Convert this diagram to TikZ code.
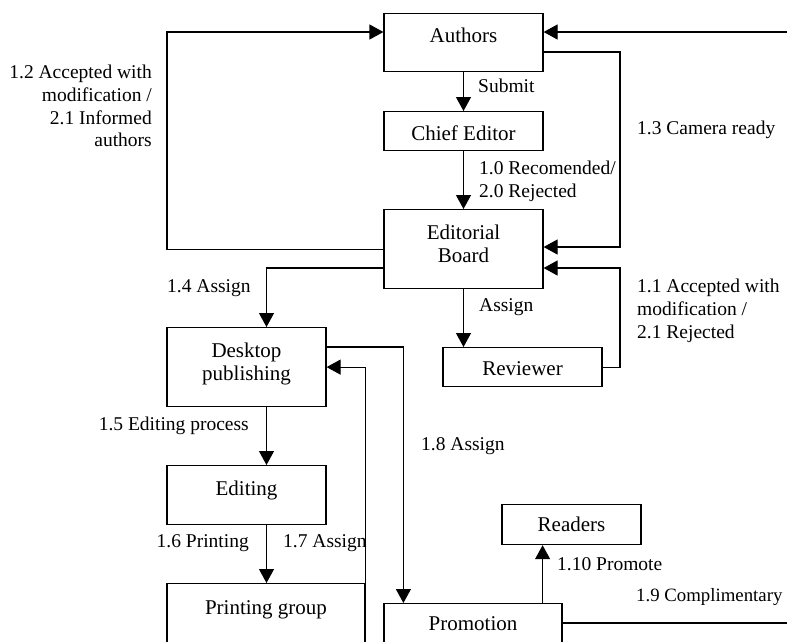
\documentclass[tikz,border=0pt]{standalone}
\usepackage{fontspec}
\setmainfont{Liberation Serif}
\usetikzlibrary{arrows.meta}
\begin{document}
\begin{tikzpicture}[x=1pt,y=-1pt,
  box/.style={draw, line width=1.2pt, inner xsep=0pt, inner ysep=0pt, anchor=north, font=\fontsize{21}{23}\selectfont},
  lbl/.style={inner sep=0pt, font=\fontsize{19.5}{22.7}\selectfont},
  conn/.style={line width=1.2pt},
  arr/.style={conn, -{Triangle[length=14pt,width=15pt]}}
]
\useasboundingbox (0,0) rectangle (787,641);
\clip (0,0) rectangle (787,641);

% boxes
\node[box, minimum width=159pt, text height=29pt, text depth=29pt] (authors) at (463.5,13) {Authors};
\node[box, minimum width=159pt, text height=29pt, text depth=10pt] (chief) at (463.5,111) {Chief Editor};
\node[box, minimum width=159pt, text height=30pt, text depth=49pt] (board) at (463.5,209) {\begin{tabular}[t]{@{}c@{}}Editorial\\Board\end{tabular}};
\node[box, minimum width=159pt, text height=28pt, text depth=11pt] (reviewer) at (522.5,347) {Reviewer};
\node[box, minimum width=159pt, text height=30pt, text depth=49pt] (desktop) at (246.5,327) {\begin{tabular}[t]{@{}c@{}}Desktop\\publishing\end{tabular}};
\node[box, minimum width=159pt, text height=30pt, text depth=29pt] (editing) at (246.5,465) {Editing};
\node[box, minimum width=198pt, text height=31pt, text depth=29pt] (printing) at (266,583) {Printing group};
\node[box, minimum width=178pt, text height=27pt, text depth=15pt] (promotion) at (473,603) {Promotion};
\node[box, minimum width=139pt, text height=27pt, text depth=13pt] (readers) at (571.5,504) {Readers};

% bend / free-end coordinates
\coordinate (leftbend) at (167,32);
\coordinate (rightin) at (795,32);
\coordinate (camera) at (620,247);
\coordinate (revbend) at (620,268);
\coordinate (compl) at (795,623);

% connectors
\draw[arr] (authors.south) -- (chief.north);
\draw[arr] (chief.south) -- (board.north);
\draw[arr] (board.west) -| (leftbend) -- ([yshift=-19pt]authors.north west);
\draw[arr] (rightin) -- ([yshift=-19pt]authors.north east);
\draw[arr] ([yshift=-39pt]authors.north east) -| (camera) -- ([yshift=-38pt]board.north east);
\draw[arr] (reviewer.east) -| (revbend) -- ([yshift=-59pt]board.north east);
\draw[arr] (board.south) -- (board.south |- reviewer.north);
\draw[arr] ([yshift=-59pt]board.north west) -| ([xshift=20pt]desktop.north);
\draw[arr] ([xshift=20pt]desktop.south) -- ([xshift=20pt]editing.north);
\draw[arr] ([xshift=20pt]editing.south) -- ([xshift=20pt]editing.south |- printing.north);
\draw[arr] (printing.north east) |- (desktop.east);
\draw[arr] ([yshift=-20pt]desktop.north east) -| ([xshift=20pt]promotion.north west);
\draw[arr] ([xshift=-20pt]promotion.north east) -- ([xshift=-20pt]promotion.north east |- readers.south);
\draw[conn] ([yshift=-20pt]promotion.north east) -- (compl);

% labels
\node[lbl, anchor=west] (lsubmit) at (478,86) {Submit};
\node[lbl, anchor=west, align=left] (lrec) at (479,181) {1.0 Recomended/\\2.0 Rejected};
\node[lbl, anchor=east, align=right] (l12) at (152,106) {1.2 Accepted with\\modification /\\2.1 Informed\\authors};
\node[lbl, anchor=west] (l13) at (637,130) {1.3 Camera ready};
\node[lbl, anchor=west, align=left] (l11) at (637,311) {1.1 Accepted with\\modification /\\2.1 Rejected};
\node[lbl, anchor=west] (lassign) at (479,307) {Assign};
\node[lbl, anchor=west] (l14) at (167,288) {1.4 Assign};
\node[lbl, anchor=east] (l15) at (249,426) {1.5 Editing process};
\node[lbl, anchor=east] (l16) at (249,543) {1.6 Printing};
\node[lbl, anchor=west] (l17) at (283,543) {1.7 Assign};
\node[lbl, anchor=west] (l18) at (421,446) {1.8 Assign};
\node[lbl, anchor=west] (l110) at (557,564) {1.10 Promote};
\node[lbl, anchor=west, font=\fontsize{18.8}{22}\selectfont] (l19) at (636,597) {1.9 Complimentary};
\end{tikzpicture}
\end{document}
